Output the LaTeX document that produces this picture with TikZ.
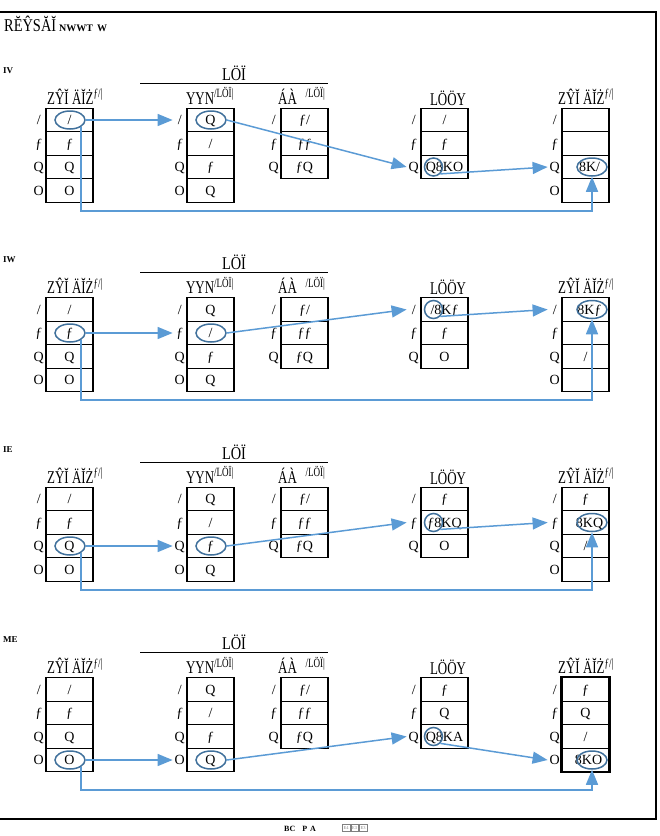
\documentclass[tikz,border=0pt]{standalone}
\usepackage{fontspec}
\setmainfont{Liberation Serif}
\usetikzlibrary{arrows.meta,shapes.geometric,calc}
\definecolor{arrc}{HTML}{5B9BD5}
\definecolor{ellc}{HTML}{41719C}
\newcommand\cfont{\fontsize{14}{14}\selectfont}
\newcommand\hfont{\fontsize{18}{18}\selectfont}
\tikzset{
  cell/.style={draw, line width=1.1pt, minimum width=47pt, minimum height=23.5pt, inner sep=0pt, font=\cfont, text height=9.5pt, text depth=0pt},
  lab/.style={anchor=east, font=\cfont, minimum width=14pt, inner sep=0pt, text height=9.5pt, text depth=0pt},
  hd/.style={font=\hfont, inner sep=0pt},
  ell/.style={draw=ellc, line width=1.5pt, ellipse, minimum width=30pt, minimum height=18pt, inner sep=0pt},
  circ/.style={minimum width=18pt, minimum height=18pt},
  arr/.style={draw=arrc, line width=1.5pt, -{Triangle[length=15pt,width=12pt]}},
  plab/.style={anchor=base west, font=\fontsize{9}{9}\selectfont\bfseries, inner sep=0pt},
  tofu/.style={draw=gray, text=gray, font=\fontsize{4.5}{4.5}\selectfont, inner sep=0.8pt, minimum width=7.5pt, minimum height=7pt},
}
% #1 prefix, #2 x centre, #3 y offset, #4 values, #5 labels
\newcommand\mycol[5]{%
  \foreach \v [count=\i from 0] in {#4} {\node[cell] (#1r\i) at ({#2},{120+23.5*\i+#3}) {\v};}
  \foreach \l [count=\i from 0] in {#5} {\node[lab] (#1l\i) at ({#2-23.5},{120+23.5*\i+#3}) {\l};}
}
% #1 id, #2 offset, #3 panel label
\newcommand\panelbase[3]{%
  \node[plab] (p#1lab) at (3,{73+#2}) {#3};
  \node[hd, anchor=base] (p#1top) at (234,{80+#2}) {\scalebox{0.8}[1]{LÖÏ}};
  \draw[line width=0.9pt] (140,{83+#2}) -- (328,{83+#2});
  \node[hd, anchor=base west] (p#1h1) at (47,{104+#2}) {\scalebox{0.72}[1]{ZŶĬ ÄĬŻ\textsuperscript{ƒ/|}}};
  \node[hd, anchor=base] (p#1h2) at (210,{104+#2}) {\scalebox{0.72}[1]{YYN\textsuperscript{/LÖÏ|}}};
  \node[hd, anchor=base west] (p#1h3) at (278,{104+#2}) {\scalebox{0.72}[1]{ÁÀ\hspace{12pt}\textsuperscript{/LÖÏ|}}};
  \node[hd, anchor=base] (p#1h4) at (448,{105+#2}) {\scalebox{0.72}[1]{LÖÖY}};
  \node[hd, anchor=base] (p#1h5) at (586,{104+#2}) {\scalebox{0.72}[1]{ZŶĬ ÄĬŻ\textsuperscript{ƒ/|}}};
  \mycol{p#1c1}{69.5}{#2}{/,ƒ,Q,O}{/,ƒ,Q,O}
  \mycol{p#1c2}{210.5}{#2}{Q,/,ƒ,Q}{/,ƒ,Q,O}
  \mycol{p#1c3}{304.5}{#2}{ƒ/,ƒƒ,ƒQ}{/,ƒ,Q}
}
% #1 id, #2 row col1/2, #3 row col4, #4 row col5, #5 low y
\newcommand\mklinks[5]{%
  \node[ell] (p#1e1) at ($(p#1c1r#2)+(0.5,0)$) {};
  \node[ell] (p#1e2) at ($(p#1c2r#2)+(0.5,0)$) {};
  \node[ell,circ] (p#1e4) at ($(p#1c4r#3)+(-11,0)$) {};
  \node[ell] (p#1e5) at ($(p#1c5r#4)+(6.5,0)$) {};
  \coordinate (p#1low) at (0,#5);
  \draw[arr] (p#1e1.east) -- (p#1c2l#2.west);
  \draw[arr] (p#1e2.east) -- (p#1c4l#3.west);
  \draw[arr] (p#1e4.south east) -- (p#1c5l#4.west);
  \draw[arr] (p#1e1.south east) -- (p#1e1.south east |- p#1low) -- (p#1e5.south |- p#1low) -- (p#1e5.south);
}
\begin{document}
\begin{tikzpicture}[x=1pt,y=-1pt]
\useasboundingbox (0,0) rectangle (660,836);
\draw[line width=1.2pt] (0,12) -- (656,12) -- (656,819) -- (0,819);
\node[anchor=base west, inner sep=0pt] (title) at (4,31) {{\fontsize{18}{18}\selectfont\scalebox{0.8}[1]{RĔŶSĂĬ}}\hspace{3pt}{\fontsize{10}{10}\selectfont\bfseries NWWT\hspace{4pt}W}};
% panel 1
\panelbase{1}{0}{IV}
\mycol{p1c4}{444.5}{0}{/,ƒ,Q8KO}{/,ƒ,Q}
\mycol{p1c5}{585.5}{0}{{},{},\hspace{8pt}8K/,{}}{/,ƒ,Q,O}
\mklinks{1}{0}{2}{2}{211}
% panel 2
\panelbase{2}{189.5}{IW}
\mycol{p2c4}{444.5}{189.5}{/8Kƒ,ƒ,O}{/,ƒ,Q}
\mycol{p2c5}{585.5}{189.5}{\hspace{8pt}8Kƒ,{},/,{}}{/,ƒ,Q,O}
\mklinks{2}{1}{0}{0}{400}
% panel 3
\panelbase{3}{379}{IE}
\mycol{p3c4}{444.5}{379}{ƒ,ƒ8KQ,O}{/,ƒ,Q}
\mycol{p3c5}{585.5}{379}{ƒ,\hspace{8pt}8KQ,/,{}}{/,ƒ,Q,O}
\mklinks{3}{2}{1}{1}{590}
% panel 4
\panelbase{4}{569.5}{ME}
\mycol{p4c4}{444.5}{569.5}{ƒ,Q,Q8KA}{/,ƒ,Q}
\mycol{p4c5}{585.5}{569.5}{ƒ,Q,/,\hspace{6pt}8KO}{/,ƒ,Q,O}
\draw[line width=2.2pt] (p4c5r0.north west) rectangle (p4c5r3.south east);
\mklinks{4}{3}{2}{3}{790}
% caption
\node[anchor=base west, inner sep=0pt, font=\fontsize{8}{8}\selectfont\bfseries] (cap) at (284,831) {BC\hspace{7pt}P\hspace{3pt}A};
\node[tofu] (b1) at (346,828) {E4};
\node[tofu] (b2) at (354.5,828) {E3};
\node[tofu] (b3) at (363,828) {E3};
\end{tikzpicture}
\end{document}
